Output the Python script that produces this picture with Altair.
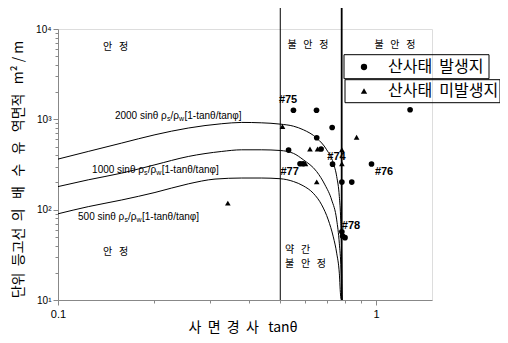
import altair as alt
import pandas as pd

# ---- curves: q * sin(theta) * rho_s/rho_w * [1 - tan(theta)/tan(phi)]
c2000_x = [0.1, 0.1245, 0.1586, 0.2018, 0.2569, 0.3272, 0.3781, 0.4371, 0.5, 0.55, 0.5907, 0.6508, 0.6998, 0.734, 0.7523, 0.7667, 0.7745, 0.7801, 0.783]
c2000_y = [363, 441, 546, 675, 801, 894, 924, 915, 885, 840, 767, 620, 460, 328, 233, 140, 77, 28, 10]
c1000_x = [0.1, 0.1245, 0.1586, 0.2018, 0.2569, 0.3272, 0.3781, 0.4371, 0.5, 0.55, 0.5907, 0.6508, 0.6912, 0.7255, 0.7523, 0.7667, 0.7762, 0.781]
c1000_y = [180, 214, 254, 314, 388, 441, 460, 460, 452, 420, 357, 264, 188, 128, 77, 42.5, 21.5, 10]
c500_x = [0.1, 0.1245, 0.1586, 0.2018, 0.2569, 0.3117, 0.3781, 0.4371, 0.5, 0.55, 0.59, 0.635, 0.6749, 0.7079, 0.734, 0.7523, 0.7667, 0.7745, 0.78]
c500_y = [90, 108, 128, 155, 193, 218, 224, 224, 220, 205, 184, 152, 113, 77, 50, 33, 19.8, 10.9, 10]

# ---- observed sites
occ_x = [0.550, 0.650, 0.728, 0.651, 0.531, 0.672, 0.577, 0.590, 0.730, 0.968, 0.781, 0.839, 1.28, 0.781, 0.799, 0.785]
occ_y = [1262, 1262, 813, 625, 457, 469, 322, 322, 319, 320, 202, 202, 1277, 57, 49, 51]
non_x = [0.508, 0.869, 0.620, 0.655, 0.781, 0.781, 0.651, 0.342, 0.600]
non_y = [834, 634, 469, 469, 460, 322, 203, 118, 322]

boundary_x = [0.5, 0.78]
NB = "\u00a0"
legend_names = ["산사태" + NB + NB + "발생지", "산사태" + NB + NB + "미발생지"]

y_ticks = [10, 20, 30, 40, 50, 60, 70, 80, 90, 100, 200, 300, 400, 500, 600, 700, 800, 900,
           1000, 2000, 3000, 4000, 5000, 6000, 7000, 8000, 9000, 10000]
x_ticks = [0.1, 0.2, 0.3, 0.4, 0.5, 0.6, 0.7, 0.8, 0.9, 1.0]

curve_q = ["2000", "1000", "500"]
curve_label_x = [0.151, 0.128, 0.1156]
curve_label_y = [1096, 276, 83.2]

region_text = ["안" + NB * 3 + "정", "불" + NB * 3 + "안" + NB * 3 + "정", "불" + NB * 3 + "안" + NB * 3 + "정", "안" + NB * 3 + "정"]
region_x = [0.1517, 0.611, 1.147, 0.1517]
region_y = [6383, 6714, 6714, 34.0]

slight_text = ["약" + NB * 3 + "간", "불" + NB * 3 + "안" + NB * 3 + "정"]
slight_x = [0.5175, 0.5175]
slight_y = [35.8, 25.1]

site_text = ["#75", "#74", "#77", "#76", "#78"]
site_x = [0.529, 0.751, 0.535, 1.06, 0.834]
site_y = [1620, 385, 264, 262, 66.7]

# ---- tables
curves = pd.concat([
    pd.DataFrame({"x": c2000_x, "y": c2000_y, "q": "2000"}),
    pd.DataFrame({"x": c1000_x, "y": c1000_y, "q": "1000"}),
    pd.DataFrame({"x": c500_x, "y": c500_y, "q": "500"}),
])
points = pd.concat([
    pd.DataFrame({"x": occ_x, "y": occ_y, "type": legend_names[0]}),
    pd.DataFrame({"x": non_x, "y": non_y, "type": legend_names[1]}),
])
labels = pd.DataFrame({"x": curve_label_x, "y": curve_label_y, "q": curve_q})
regions = pd.DataFrame({"x": region_x, "y": region_y, "t": region_text})
slight = pd.DataFrame({"x": slight_x, "y": slight_y, "t": slight_text})
sites = pd.DataFrame({"x": site_x, "y": site_y, "t": site_text})

W, H = 374, 271
FONT = "Liberation Sans, Noto Sans CJK KR"
KFONT = "Noto Sans CJK KR"

xscale = alt.Scale(type="log", domain=[0.1, 1.5], nice=False)
yscale = alt.Scale(type="log", domain=[10, 10000], nice=False)

sup = {10: "10¹", 100: "10²", 1000: "10³", 10000: "10⁴"}
y_expr = " : ".join(f"datum.value == {k} ? '{v}'" for k, v in sup.items()) + " : ''"
x_expr = "datum.value == 0.1 ? '0.1' : datum.value == 1 ? '1' : ''"

x_title = "사" + NB * 2 + "면" + NB * 2 + "경" + NB * 2 + "사" + NB * 3 + "tanθ"
y_title = ("단위" + NB * 2 + "등고선" + NB * 2 + "의" + NB * 3 + "배" + NB * 3 + "수" + NB * 3 + "유" + NB * 3
           + "역면적" + NB * 3 + "m²" + NB + "/" + NB + "m")

X = alt.X("x:Q", scale=xscale, axis=alt.Axis(
    values=x_ticks, labelExpr=x_expr, grid=False, title=x_title,
    titleFont=KFONT, titleFontSize=14, titleFontWeight="normal",
    titleX=130, titleAlign="left", titleY=27, titleBaseline="middle",
    labelFontSize=11, labelFont=FONT, labelPadding=3,
    tickSize={"condition": {"test": "datum.value == 0.1 || datum.value == 1", "value": 5}, "value": 3},
    labelFlush=False))
Y = alt.Y("y:Q", scale=yscale, axis=alt.Axis(
    values=y_ticks, labelExpr=y_expr, grid=False, title=y_title,
    titleFont=KFONT, titleFontSize=14, titleFontWeight="normal", titlePadding=10,
    titleY=140, titleAnchor=None,
    labelFontSize=10, labelFont=FONT, labelPadding=2,
    tickSize={"condition": {"test": "indexof([10,100,1000,10000], datum.value) >= 0", "value": 5}, "value": 3}))

curve_layer = alt.Chart(curves).mark_line(color="black", strokeWidth=1, interpolate="monotone", clip=True).encode(
    x=X, y=Y, detail="q:N")

bx = pd.DataFrame({"x": boundary_x})
rule1 = alt.Chart(bx).transform_filter(alt.datum.x == boundary_x[0]).mark_rule(color="black", strokeWidth=1).encode(
    x=alt.X("x:Q", scale=xscale), y=alt.value(-21), y2=alt.value(H))
rule2 = alt.Chart(bx).transform_filter(alt.datum.x == boundary_x[1]).mark_rule(color="black", strokeWidth=1.8).encode(
    x=alt.X("x:Q", scale=xscale), y=alt.value(-21), y2=alt.value(H))

pts = alt.Chart(points).mark_point(filled=True, color="black", opacity=1, size=32).encode(
    x=alt.X("x:Q", scale=xscale), y=alt.Y("y:Q", scale=yscale),
    shape=alt.Shape("type:N", scale=alt.Scale(domain=legend_names, range=["circle", "triangle-up"]),
                    legend=alt.Legend(title=None, orient="none", legendX=298, legendY=30,
                                      labelFont=KFONT, labelFontSize=16, labelOffset=16, labelLimit=300,
                                      symbolSize=40, symbolFillColor="black", symbolStrokeColor="black",
                                      rowPadding=8, padding=0, labelColor="black")))

# curve labels built from pieces (normal text, subscript s, /rho, subscript w, bracket)
label_layers = []
for q in curve_q:
    shift = -5.6 if len(q) == 3 else 0.0
    pieces = [
        (q + " sinθ ρ", 0.0, 0, 10),
        ("s", 52.0 + shift, 3, 7),
        ("/ρ", 55.6 + shift, 0, 10),
        ("w", 64.2 + shift, 3, 7),
        ("[1-tanθ/tanφ]", 69.6 + shift, 0, 10),
    ]
    for txt, dx, dy, fs in pieces:
        label_layers.append(
            alt.Chart(labels).transform_filter(alt.datum.q == q).transform_calculate(t=f"'{txt}'")
            .mark_text(align="left", baseline="middle", font=FONT, fontSize=fs, dx=dx, dy=dy, color="black")
            .encode(x=alt.X("x:Q", scale=xscale), y=alt.Y("y:Q", scale=yscale), text="t:N"))

reg = alt.Chart(regions).mark_text(align="center", baseline="middle", font=KFONT, fontSize=10, color="black").encode(
    x=alt.X("x:Q", scale=xscale), y=alt.Y("y:Q", scale=yscale), text="t:N")
sl = alt.Chart(slight).mark_text(align="left", baseline="middle", font=KFONT, fontSize=10, color="black").encode(
    x=alt.X("x:Q", scale=xscale), y=alt.Y("y:Q", scale=yscale), text="t:N")
st = alt.Chart(sites).mark_text(align="center", baseline="middle", font=FONT, fontSize=11, fontWeight="bold", color="black").encode(
    x=alt.X("x:Q", scale=xscale), y=alt.Y("y:Q", scale=yscale), text="t:N")

frame_df = pd.DataFrame({"k": [0]})
box1 = alt.Chart(frame_df).mark_rect(fill=None, stroke="black", strokeWidth=1).encode(
    x=alt.value(286), x2=alt.value(431), y=alt.value(25.7), y2=alt.value(49.7))
box2 = alt.Chart(frame_df).mark_rect(fill=None, stroke="black", strokeWidth=1).encode(
    x=alt.value(287), x2=alt.value(442), y=alt.value(50.7), y2=alt.value(73.7))

chart = alt.layer(curve_layer, rule1, rule2, pts, *label_layers, reg, sl, st, box1, box2).properties(
    width=W, height=H,
    autosize=alt.AutoSizeParams(type="none"),
    padding={"left": 50, "top": 21, "right": 68, "bottom": 38},
).configure_view(stroke=None).configure_axis(
    domainColor="black", tickColor="black", labelColor="black", titleColor="black", domainWidth=1
).configure(background="white")

chart.save("out.html", embed_options={"renderer": "svg", "actions": False})
